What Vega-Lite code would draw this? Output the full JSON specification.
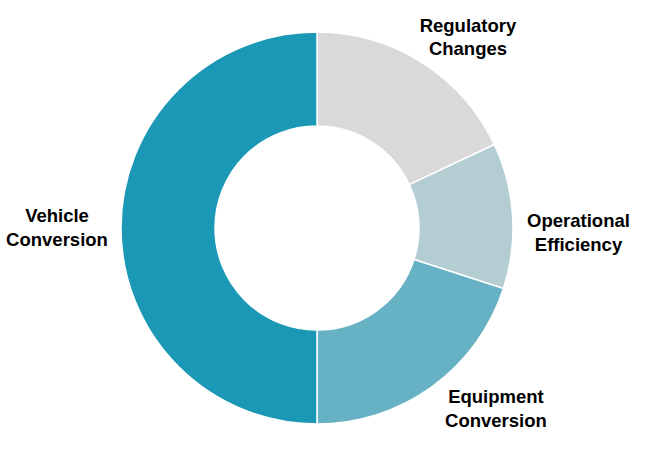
{
  "$schema": "https://vega.github.io/schema/vega-lite/v6.json",
  "width": 634,
  "height": 446,
  "autosize": "none",
  "padding": {"left": 0, "right": 17, "top": 5, "bottom": 0},
  "background": "white",
  "view": {"stroke": null},
  "data": {
    "values": [
      {"category": "Regulatory Changes", "label": "Regulatory\nChanges", "share": 18, "rank": 1},
      {"category": "Operational Efficiency", "label": "Operational\nEfficiency", "share": 12, "rank": 2},
      {"category": "Equipment Conversion", "label": "Equipment\nConversion", "share": 20, "rank": 3},
      {"category": "Vehicle Conversion", "label": "Vehicle\nConversion", "share": 50, "rank": 4}
    ]
  },
  "encoding": {
    "theta": {"field": "share", "type": "quantitative", "stack": true},
    "order": {"field": "rank", "type": "quantitative", "sort": "ascending"}
  },
  "layer": [
    {
      "mark": {"type": "arc", "outerRadius": 196, "innerRadius": 102, "stroke": "white", "strokeWidth": 1.5},
      "encoding": {
        "color": {
          "field": "category",
          "type": "nominal",
          "scale": {
            "domain": ["Regulatory Changes", "Operational Efficiency", "Equipment Conversion", "Vehicle Conversion"],
            "range": ["#d9d9d9", "#b3cdd3", "#67b1c5", "#1b98b5"]
          },
          "legend": null
        }
      }
    },
    {
      "mark": {"type": "text", "radius": 250, "dx": 17, "dy": 9, "font": "Liberation Sans", "fontWeight": "bold", "fontSize": 18.5, "lineBreak": "\n", "lineHeight": 23.5, "color": "black"},
      "encoding": {"text": {"condition": {"test": "datum.category === 'Regulatory Changes'", "field": "label"}, "value": ""}}
    },
    {
      "mark": {"type": "text", "radius": 250, "dx": 12, "dy": 9, "font": "Liberation Sans", "fontWeight": "bold", "fontSize": 18.5, "lineBreak": "\n", "lineHeight": 23.5, "color": "black"},
      "encoding": {"text": {"condition": {"test": "datum.category === 'Operational Efficiency'", "field": "label"}, "value": ""}}
    },
    {
      "mark": {"type": "text", "radius": 250, "dx": 32, "dy": -33, "font": "Liberation Sans", "fontWeight": "bold", "fontSize": 18.5, "lineBreak": "\n", "lineHeight": 23.5, "color": "black"},
      "encoding": {"text": {"condition": {"test": "datum.category === 'Equipment Conversion'", "field": "label"}, "value": ""}}
    },
    {
      "mark": {"type": "text", "radius": 250, "dx": -10, "dy": -12, "font": "Liberation Sans", "fontWeight": "bold", "fontSize": 18.5, "lineBreak": "\n", "lineHeight": 23.5, "color": "black"},
      "encoding": {"text": {"condition": {"test": "datum.category === 'Vehicle Conversion'", "field": "label"}, "value": ""}}
    }
  ]
}
